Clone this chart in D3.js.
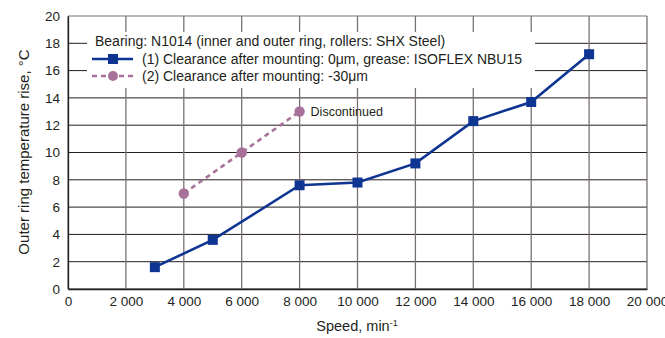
<!DOCTYPE html>
<html><head><meta charset="utf-8">
<script src="https://cdn.jsdelivr.net/npm/d3@7"></script>
<style>body{margin:0;background:#fff}text{font-family:"Liberation Sans",Arial,sans-serif;fill:#231f20}</style>
</head><body><svg id="c" width="665" height="338"></svg>
<script>
const xTicks = [0,2000,4000,6000,8000,10000,12000,14000,16000,18000,20000];
const yTicks = [0,2,4,6,8,10,12,14,16,18,20];
const s1Speed = [3000,5000,8000,10000,12000,14000,16000,18000];
const s1Temp = [1.6,3.6,7.6,7.8,9.2,12.3,13.7,17.2];
const s2Speed = [4000,6000,8000];
const s2Temp = [7.0,10.0,13.0];
const legendTitle = "Bearing: N1014 (inner and outer ring, rollers: SHX Steel)";
const seriesNames = ["(1) Clearance after mounting: 0μm, grease: ISOFLEX NBU15","(2) Clearance after mounting: -30μm"];

const svg = d3.select("#c");
const L=68,R=647,T=16,B=289;
const x = d3.scaleLinear().domain([0,20000]).range([L,R]);
const y = d3.scaleLinear().domain([0,20]).range([B,T]);
const blue="#0f3592", purple="#a8719a";
const fmt = d => d===0?"0":d3.format(",")(d).replace(/,/g," ");

// grid
svg.append("g").selectAll("line").data(yTicks).join("line")
  .attr("x1",L).attr("x2",R).attr("y1",d=>y(d)).attr("y2",d=>y(d))
  .attr("stroke",d=>d===20?"#7a7272":"#231d1d").attr("stroke-width",1);
svg.append("g").selectAll("line").data(xTicks).join("line")
  .attr("y1",T).attr("y2",B).attr("x1",d=>x(d)).attr("x2",d=>x(d))
  .attr("stroke","#7a7272").attr("stroke-width",1.3);
// axes
const xa = svg.append("g").attr("transform",`translate(0,${B})`).call(d3.axisBottom(x).tickValues(xTicks).tickFormat(fmt).tickSize(0).tickPadding(7));
xa.select(".domain").attr("stroke","#231f20").attr("stroke-width",1.3);
xa.selectAll("text").attr("font-size",13.5).style("fill","#231f20");
const ya = svg.append("g").attr("transform",`translate(${L},0)`).call(d3.axisLeft(y).tickValues(yTicks).tickSize(0).tickPadding(8));
ya.select(".domain").attr("stroke","#231f20").attr("stroke-width",1.3);
ya.selectAll("text").attr("font-size",13.5).style("fill","#231f20");

// legend box
svg.append("rect").attr("x",87).attr("y",32).attr("width",448).attr("height",56).attr("fill","#fff");
svg.append("text").attr("x",95).attr("y",46).attr("font-size",14).text(legendTitle);
const lg = [{c:blue,d:null,sq:true,y:59},{c:purple,d:"5,4",sq:false,y:76}];
lg.forEach((g,i)=>{
  svg.append("line").attr("x1",92).attr("x2",133).attr("y1",g.y).attr("y2",g.y)
    .attr("stroke",g.c).attr("stroke-width",2.6).attr("stroke-dasharray",g.d);
  if(g.sq) svg.append("rect").attr("x",108).attr("y",g.y-5).attr("width",10).attr("height",10).attr("fill",g.c);
  else svg.append("circle").attr("cx",113).attr("cy",g.y).attr("r",5).attr("fill",g.c);
  svg.append("text").attr("x",142).attr("y",g.y+5).attr("font-size",14).text(seriesNames[i]);
});

// series 2
const d2 = s2Speed.map((s,i)=>[s,s2Temp[i]]);
svg.append("path").datum(d2).attr("fill","none").attr("stroke",purple).attr("stroke-width",2.6)
  .attr("stroke-dasharray","5,4").attr("d",d3.line().x(d=>x(d[0])).y(d=>y(d[1])));
svg.append("g").selectAll("circle").data(d2).join("circle").attr("cx",d=>x(d[0])).attr("cy",d=>y(d[1])).attr("r",5.2).attr("fill",purple);
svg.append("text").attr("x",x(8000)+11).attr("y",y(13)+4.5).attr("font-size",12.5).text("Discontinued");

// series 1
const d1 = s1Speed.map((s,i)=>[s,s1Temp[i]]);
svg.append("path").datum(d1).attr("fill","none").attr("stroke",blue).attr("stroke-width",2.6)
  .attr("d",d3.line().x(d=>x(d[0])).y(d=>y(d[1])));
svg.append("g").selectAll("rect").data(d1).join("rect").attr("x",d=>x(d[0])-5).attr("y",d=>y(d[1])-5).attr("width",10).attr("height",10).attr("fill",blue);

// labels
const xl = svg.append("text").attr("x",357).attr("y",331).attr("text-anchor","middle").attr("font-size",14.5);
xl.append("tspan").text("Speed, min");
xl.append("tspan").attr("dy",-5).attr("font-size",9).text("-1");
svg.append("text").attr("transform","translate(29,152) rotate(-90)").attr("text-anchor","middle").attr("font-size",15).text("Outer ring temperature rise, °C");
</script></body></html>
